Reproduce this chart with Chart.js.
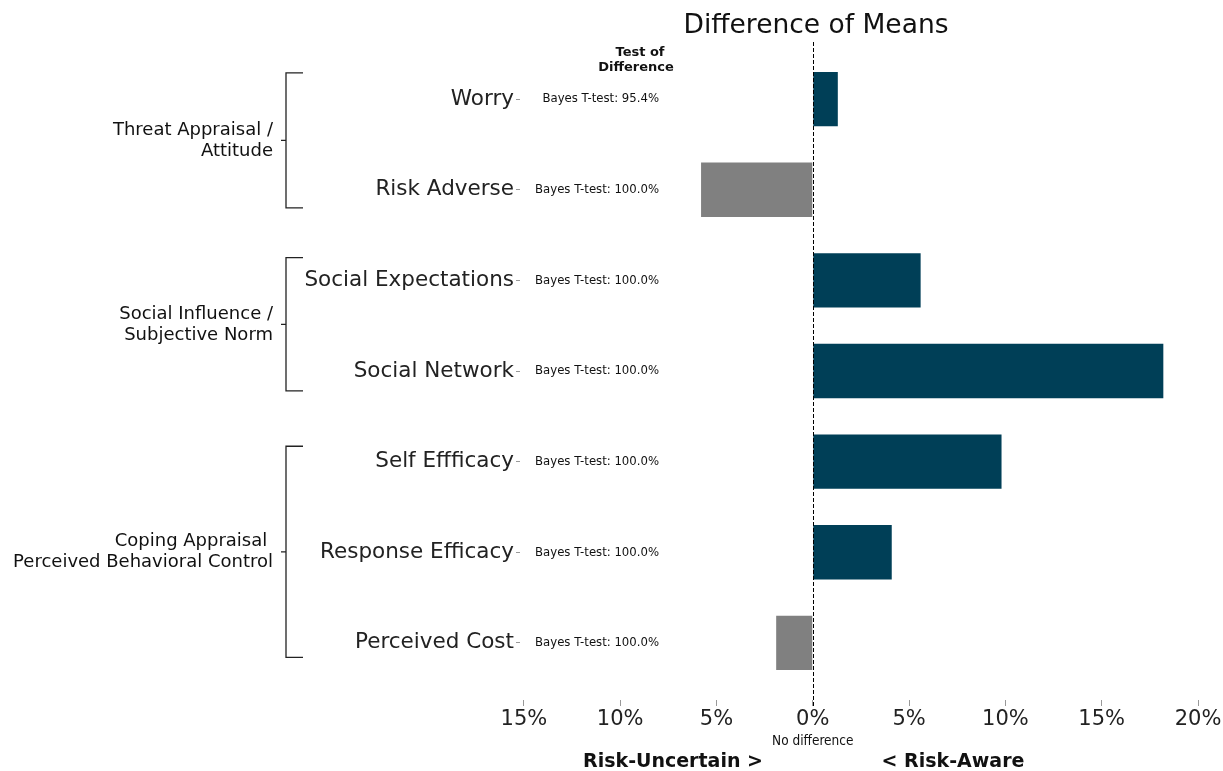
<!DOCTYPE html>
<html>
<head>
<meta charset="utf-8">
<script src="https://cdn.jsdelivr.net/npm/chart.js@4.4.0/dist/chart.umd.min.js"></script>
<style>
  html, body { margin: 0; padding: 0; background: #fff; }
  #wrap { width: 1223px; height: 771px; }
</style>
</head>
<body>
<div id="wrap"><canvas id="grafico"></canvas></div>
<script>
// datos del grafico
var categorias = ['Worry', 'Risk Adverse', 'Social Expectations', 'Social Network', 'Self Effficacy', 'Response Efficacy', 'Perceived Cost'];
var diferencias = [1.3, -5.8, 5.6, 18.2, 9.8, 4.1, -1.9];
var pruebas = ['Bayes T-test: 95.4%', 'Bayes T-test: 100.0%', 'Bayes T-test: 100.0%', 'Bayes T-test: 100.0%', 'Bayes T-test: 100.0%', 'Bayes T-test: 100.0%', 'Bayes T-test: 100.0%'];
var grupos = [['Threat Appraisal /', 'Attitude'], ['Social Influence /', 'Subjective Norm'], ['Coping Appraisal ', 'Perceived Behavioral Control']];
var ticksX = [-15, -10, -5, 0, 5, 10, 15, 20];

// extension de los corchetes (en unidades del eje y)
var corchetes = [[-0.29, 1.2], [1.75, 3.22], [3.83, 6.16]];

var azul = '#003f57';
var gris = '#808080';

var anotaciones = {
  id: 'anotaciones',
  afterDraw: function (chart) {
    var ctx = chart.ctx;
    var x = chart.scales.x, y = chart.scales.y;
    var area = chart.chartArea;
    ctx.save();

    // linea discontinua en cero
    var x0 = Math.round(x.getPixelForValue(0)) + 0.5;
    ctx.strokeStyle = '#000';
    ctx.lineWidth = 1;
    ctx.setLineDash([4, 2]);
    ctx.beginPath();
    ctx.moveTo(x0, area.top);
    ctx.lineTo(x0, area.bottom + 6);
    ctx.stroke();
    ctx.setLineDash([]);

    // textos de la prueba
    ctx.fillStyle = '#111';
    ctx.textAlign = 'right';
    ctx.textBaseline = 'middle';
    ctx.font = '13px "DejaVu Sans Condensed", "DejaVu Sans"';
    pruebas.forEach(function (t, i) {
      ctx.fillText(t, 659, y.getPixelForValue(i));
    });

    ctx.textAlign = 'center';
    ctx.font = 'bold 13px "DejaVu Sans"';
    ctx.fillText('Test of', 640, 53);
    ctx.fillText('Difference', 636, 68);

    // titulo
    ctx.font = '26.5px "DejaVu Sans"';
    ctx.fillStyle = '#111';
    ctx.fillText('Difference of Means', 816, 26);

    // etiquetas inferiores
    ctx.font = '13.5px "DejaVu Sans Condensed", "DejaVu Sans"';
    ctx.fillText('No difference', x.getPixelForValue(0), 741);
    ctx.font = 'bold 19px "DejaVu Sans"';
    ctx.fillText('Risk-Uncertain >', 673, 762);
    ctx.fillText('< Risk-Aware', 953, 762);

    // corchetes de grupos
    ctx.strokeStyle = '#222';
    ctx.lineWidth = 1.3;
    ctx.font = '18px "DejaVu Sans"';
    ctx.textAlign = 'right';
    corchetes.forEach(function (c, i) {
      var y0 = y.getPixelForValue(c[0]);
      var y1 = y.getPixelForValue(c[1]);
      var ym = (y0 + y1) / 2;
      ctx.beginPath();
      ctx.moveTo(303, y0);
      ctx.lineTo(286, y0);
      ctx.lineTo(286, y1);
      ctx.lineTo(303, y1);
      ctx.moveTo(286, ym);
      ctx.lineTo(281, ym);
      ctx.stroke();
      ctx.fillStyle = '#111';
      ctx.fillText(grupos[i][0], 273, ym - 10);
      ctx.fillText(grupos[i][1], 273, ym + 11);
    });
    ctx.restore();
  }
};

var ctx = document.getElementById('grafico').getContext('2d');
var myChart = new Chart(ctx, {
  type: 'bar',
  data: {
    datasets: [{
      data: diferencias.map(function (v, i) { return { x: v, y: i }; }),
      backgroundColor: diferencias.map(function (v) { return v < 0 ? gris : azul; }),
      borderWidth: 0,
      barPercentage: 0.6,
      categoryPercentage: 1
    }]
  },
  options: {
    indexAxis: 'y',
    responsive: true,
    maintainAspectRatio: false,
    animation: false,
    layout: { padding: { top: 42, right: 25, left: 0, bottom: 0 } },
    plugins: { legend: { display: false }, tooltip: { enabled: false } },
    scales: {
      x: {
        type: 'linear',
        min: -15.2,
        max: 20,
        afterBuildTicks: function (s) { s.ticks = ticksX.map(function (v) { return { value: v }; }); },
        afterFit: function (s) { s.height = 71; },
        border: { display: false },
        grid: { drawOnChartArea: false, drawTicks: true, tickLength: 6, color: '#999' },
        ticks: {
          color: '#222',
          font: { family: 'DejaVu Sans', size: 21 },
          padding: 1,
          maxRotation: 0,
          callback: function (v) { return Math.abs(v) + '%'; }
        }
      },
      y: {
        type: 'linear',
        reverse: true,
        offset: false,
        min: -0.63,
        max: 6.63,
        afterBuildTicks: function (s) { s.ticks = categorias.map(function (c, i) { return { value: i }; }); },
        afterFit: function (s) { s.width = 520; },
        border: { display: false },
        grid: { offset: false, drawOnChartArea: false, drawTicks: true, tickLength: 4, color: '#999' },
        ticks: {
          color: '#222',
          font: { family: 'DejaVu Sans', size: 21.5 },
          padding: 2,
          callback: function (v) { return categorias[v]; }
        }
      }
    }
  },
  plugins: [anotaciones]
});
</script>
</body>
</html>
